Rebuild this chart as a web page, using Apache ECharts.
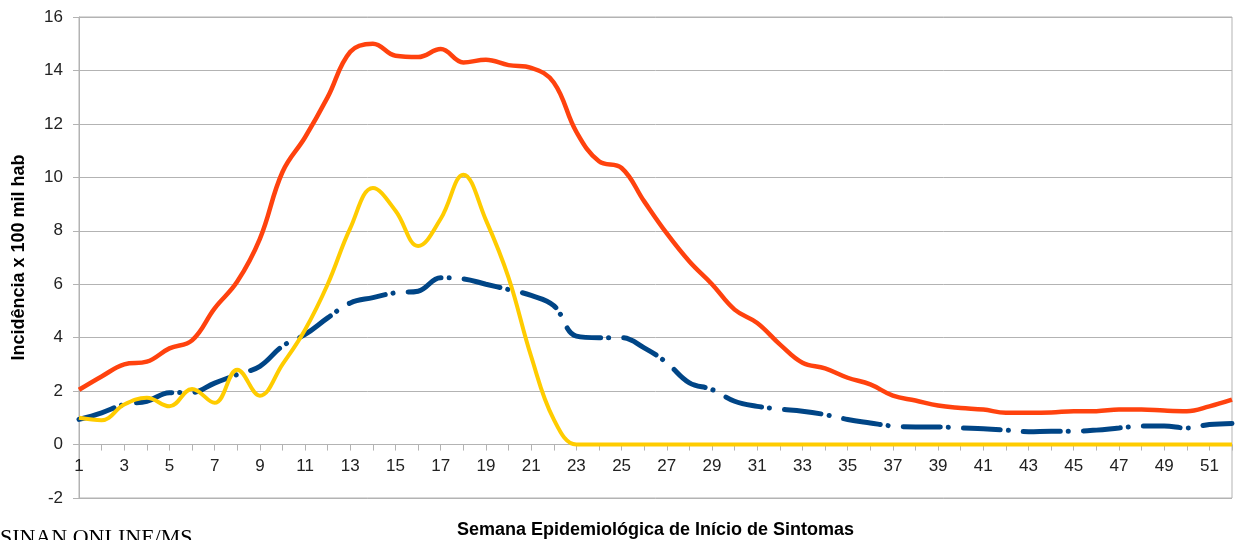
<!DOCTYPE html>
<html>
<head>
<meta charset="utf-8">
<script src="https://cdn.jsdelivr.net/npm/echarts@6/dist/echarts.min.js"></script>
<style>html,body{margin:0;padding:0;background:#fff}#c{width:1243px;height:540px}</style>
</head>
<body>
<div id="c"></div>
<script>
const weeks = Array.from({length: 52}, (_, i) => String(i + 1));
const redSeries = [2.05,2.55,3.0,3.1,3.6,3.9,5.1,6.1,7.7,10.2,11.5,13.0,14.7,15.0,14.55,14.5,14.8,14.3,14.4,14.2,14.1,13.55,11.7,10.6,10.35,9.1,7.9,6.85,6.0,5.05,4.55,3.75,3.06,2.85,2.5,2.25,1.83,1.65,1.46,1.37,1.31,1.19,1.19,1.2,1.25,1.25,1.31,1.31,1.27,1.25,1.43,1.68];
const yellowSeries = [1.0,0.91,1.5,1.75,1.43,2.08,1.56,2.8,1.83,3.0,4.3,6.0,8.1,9.6,8.75,7.43,8.45,10.1,8.4,6.25,3.3,0.94,0,0,0,0,0,0,0,0,0,0,0,0,0,0,0,0,0,0,0,0,0,0,0,0,0,0,0,0,0,0];
const blueSeries = [0.94,1.19,1.5,1.62,1.94,1.95,2.3,2.62,2.93,3.68,4.12,4.74,5.3,5.5,5.68,5.74,6.24,6.2,6.0,5.8,5.58,5.2,4.06,4.0,4.0,3.62,3.06,2.31,2.06,1.62,1.43,1.33,1.25,1.12,0.94,0.81,0.69,0.66,0.66,0.62,0.59,0.54,0.48,0.5,0.5,0.54,0.62,0.69,0.69,0.62,0.75,0.79];
const yTicks = {min: -2, max: 16, interval: 2};

const gridTop = 17, gridBottom = 42, H = 540;
const plotH = H - gridTop - gridBottom;
const zeroOffset = -plotH * (0 - yTicks.min) / (yTicks.max - yTicks.min);

const chart = echarts.init(document.getElementById('c'), null, {renderer: 'canvas'});
const font = 'Liberation Sans, Arial, sans-serif';
chart.setOption({
  animation: false,
  backgroundColor: '#fff',
  grid: {left: 79, right: 11, top: gridTop, bottom: gridBottom, show: true, borderColor: '#b3b3b3', borderWidth: 1,
         containLabel: false, outerBoundsMode: 'none'},
  xAxis: {
    type: 'category', data: weeks, boundaryGap: false, position: 'bottom', offset: zeroOffset,
    name: 'Semana Epidemiológica de Início de Sintomas',
    nameLocation: 'middle', nameGap: 76,
    nameTextStyle: {fontFamily: font, fontWeight: 'bold', fontSize: 18, color: '#000'},
    axisLine: {onZero: false, lineStyle: {color: '#b3b3b3', width: 1}},
    axisTick: {show: true, interval: 0, length: 6, lineStyle: {color: '#b3b3b3'}},
    axisLabel: {interval: 1, margin: 13, fontFamily: font, fontSize: 17, color: '#222'},
    splitLine: {show: false}
  },
  yAxis: {
    type: 'value', min: yTicks.min, max: yTicks.max, interval: yTicks.interval,
    name: 'Incidência x 100 mil hab', nameLocation: 'middle', nameGap: 51,
    nameTextStyle: {fontFamily: font, fontWeight: 'bold', fontSize: 18, color: '#000'},
    axisLine: {show: true, lineStyle: {color: '#b3b3b3'}},
    axisTick: {show: true, length: 6, lineStyle: {color: '#b3b3b3'}},
    axisLabel: {margin: 16, fontFamily: font, fontSize: 17, color: '#222'},
    splitLine: {show: true, lineStyle: {color: '#b3b3b3', width: 1}}
  },
  graphic: [{
    type: 'text', left: 0, top: 527,
    style: {text: 'SINAN ONLINE/MS', font: '22px "Liberation Serif", "Times New Roman", serif', fill: '#000'}
  }],
  series: [
    {name: 'blue', type: 'line', data: blueSeries, smooth: 0.4, showSymbol: false,
     lineStyle: {color: '#004586', width: 5, type: [37, 8, 0.1, 15], cap: 'round'}},
    {name: 'yellow', type: 'line', data: yellowSeries, smooth: 0.4, showSymbol: false,
     lineStyle: {color: '#ffcc00', width: 4}},
    {name: 'red', type: 'line', data: redSeries, smooth: 0.4, showSymbol: false,
     lineStyle: {color: '#ff420e', width: 4.5}}
  ]
});
</script>
</body>
</html>
